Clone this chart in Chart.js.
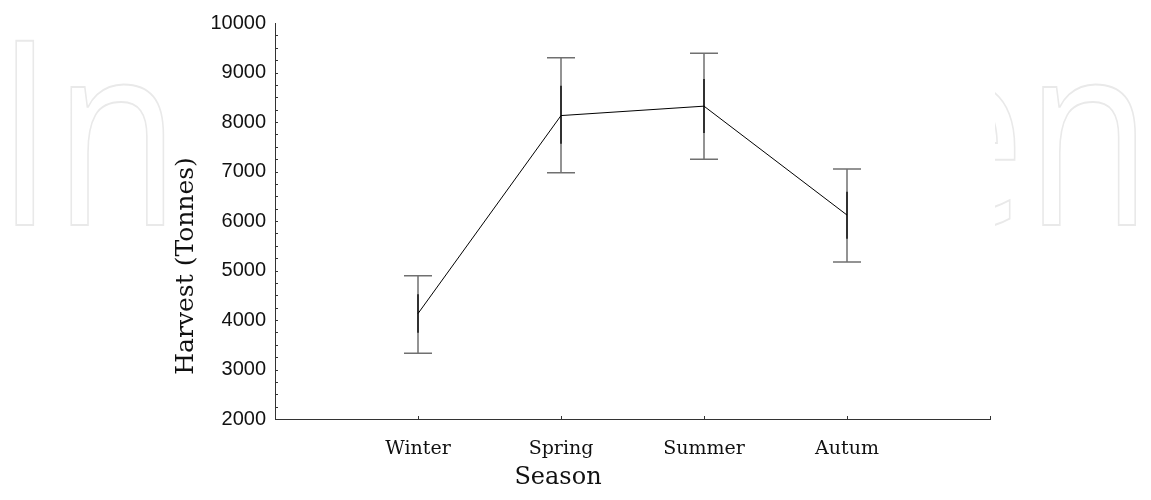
<!DOCTYPE html>
<html lang="en">
<head>
    <meta charset="UTF-8">
    <title>Harvest by Season</title>
    <script src="https://cdn.jsdelivr.net/npm/chart.js"></script>
    <style>
        body { margin: 0; background: #fff; }
        .chart-box { width: 1151px; height: 500px; position: relative; }
    </style>
</head>
<body>
    <div class="chart-box">
        <canvas id="harvestChart"></canvas>
    </div>

    <script>
        // values
        const seasons = ['Winter', 'Spring', 'Summer', 'Autum'];
        const means = [4130, 8130, 8320, 6120];
        const seLow = [3740, 7560, 7780, 5640];
        const seHigh = [4520, 8730, 8870, 6590];
        const ciLow = [3330, 6975, 7245, 5170];
        const ciHigh = [4895, 9300, 9390, 7050];
        const yTicks = [2000, 3000, 4000, 5000, 6000, 7000, 8000, 9000, 10000];

        // faint publisher watermark, only visible outside the figure itself
        const watermark = {
            id: 'watermark',
            beforeDraw(chart) {
                const ctx = chart.ctx;
                ctx.save();
                ctx.font = '400 258px "Open Sans"';
                ctx.strokeStyle = '#e9e9e9';
                ctx.lineWidth = 2;
                ctx.textBaseline = 'alphabetic';

                ctx.save();
                ctx.beginPath();
                ctx.rect(0, 0, 168, 500);
                ctx.clip();
                ctx.translate(4, 225);
                ctx.scale(0.8, 1);
                ctx.textAlign = 'left';
                ctx.strokeText('In', -10, 0);
                ctx.restore();

                ctx.save();
                ctx.beginPath();
                ctx.rect(995, 0, 156, 500);
                ctx.clip();
                ctx.translate(1152, 225);
                ctx.scale(0.8, 1);
                ctx.textAlign = 'right';
                ctx.strokeText('en', 0, 0);
                ctx.restore();

                ctx.restore();
            }
        };

        // whiskers (gray) with the inner standard error part in black
        const errorBars = {
            id: 'errorBars',
            beforeDatasetsDraw(chart) {
                const { ctx, scales: { x, y } } = chart;
                ctx.save();
                seasons.forEach((s, i) => {
                    const px = x.getPixelForValue(i + 1);
                    const top = y.getPixelForValue(ciHigh[i]);
                    const bot = y.getPixelForValue(ciLow[i]);
                    ctx.strokeStyle = '#707070';
                    ctx.lineWidth = 1.5;
                    ctx.beginPath();
                    ctx.moveTo(px, top); ctx.lineTo(px, bot);
                    ctx.moveTo(px - 14, top); ctx.lineTo(px + 14, top);
                    ctx.moveTo(px - 14, bot); ctx.lineTo(px + 14, bot);
                    ctx.stroke();
                    ctx.strokeStyle = '#111';
                    ctx.lineWidth = 1.5;
                    ctx.beginPath();
                    ctx.moveTo(px, y.getPixelForValue(seHigh[i]));
                    ctx.lineTo(px, y.getPixelForValue(seLow[i]));
                    ctx.stroke();
                });
                ctx.restore();
            }
        };

        // tick marks pointing into the plot, plus axis titles
        const axisExtras = {
            id: 'axisExtras',
            afterDraw(chart) {
                const { ctx, chartArea, scales: { x, y } } = chart;
                ctx.save();
                ctx.strokeStyle = '#333';
                ctx.lineWidth = 1;
                ctx.beginPath();
                for (let v = 2250; v < 10000; v += 250) {
                    const py = Math.round(y.getPixelForValue(v)) + 0.5;
                    ctx.moveTo(chartArea.left, py);
                    ctx.lineTo(chartArea.left + 3, py);
                }
                for (let v = 1; v <= 5; v++) {
                    const px = Math.round(x.getPixelForValue(v)) + 0.5;
                    ctx.moveTo(px, chartArea.bottom);
                    ctx.lineTo(px, chartArea.bottom - 3);
                }
                ctx.stroke();

                ctx.fillStyle = '#111';
                ctx.textAlign = 'center';
                ctx.textBaseline = 'middle';
                ctx.font = '24px "DejaVu Serif"';
                ctx.fillText('Season', 558, 478);

                ctx.translate(186, 266);
                ctx.rotate(-Math.PI / 2);
                ctx.font = '25px "DejaVu Serif"';
                ctx.fillText('Harvest (Tonnes)', 0, 0);
                ctx.restore();
            }
        };

        const ctx = document.getElementById('harvestChart').getContext('2d');
        new Chart(ctx, {
            type: 'line',
            data: {
                datasets: [{
                    label: 'Harvest',
                    data: means.map((m, i) => ({ x: i + 1, y: m })),
                    borderColor: '#000',
                    borderWidth: 1,
                    pointRadius: 0,
                    tension: 0
                }]
            },
            options: {
                responsive: true,
                maintainAspectRatio: false,
                animation: false,
                layout: { padding: { left: 0, right: 161, top: 23, bottom: 0 } },
                plugins: {
                    legend: { display: false },
                    tooltip: { enabled: false }
                },
                scales: {
                    x: {
                        type: 'linear',
                        min: 0,
                        max: 5,
                        afterFit: scale => { scale.height = 81; },
                        afterBuildTicks: scale => {
                            scale.ticks = [0, 1, 2, 3, 4, 5].map(v => ({ value: v }));
                        },
                        grid: { display: false, drawTicks: false },
                        border: { color: '#333', width: 1 },
                        ticks: {
                            padding: 19,
                            color: '#111',
                            font: { family: 'DejaVu Serif', size: 19 },
                            callback: v => seasons[v - 1] || ''
                        }
                    },
                    y: {
                        min: 2000,
                        max: 10000,
                        afterFit: scale => { scale.width = 275; },
                        afterBuildTicks: scale => {
                            scale.ticks = yTicks.map(v => ({ value: v }));
                        },
                        grid: { display: false, drawTicks: false },
                        border: { color: '#333', width: 1 },
                        ticks: {
                            padding: 9,
                            color: '#111',
                            font: { family: 'Liberation Sans', size: 20 },
                            callback: v => String(v)
                        }
                    }
                }
            },
            plugins: [watermark, errorBars, axisExtras]
        });
    </script>
</body>
</html>
